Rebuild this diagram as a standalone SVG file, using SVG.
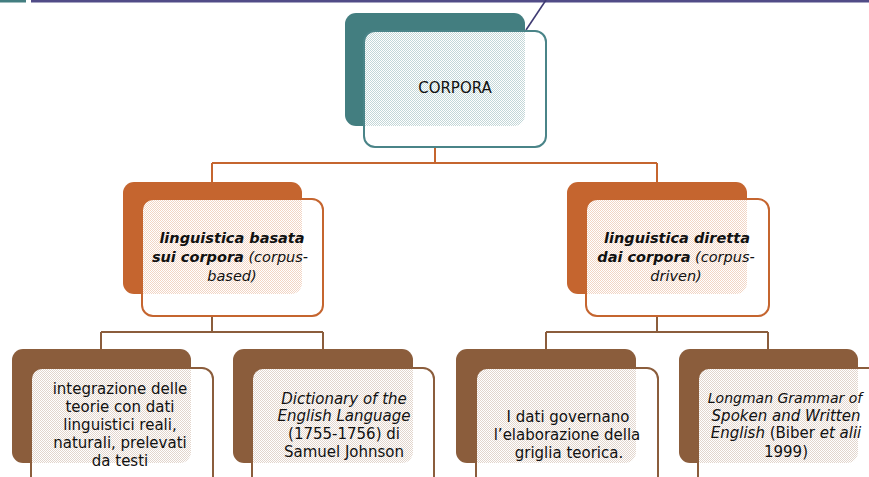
<svg xmlns="http://www.w3.org/2000/svg" width="869" height="477" viewBox="0 0 869 477">
<style>
  .t { font-family: "DejaVu Sans", "Liberation Sans", sans-serif; fill: #111; text-anchor: middle; }
  .top { font-size: 15px; }
  .l2 { font-size: 14.5px; font-style: italic; }
  .b { font-weight: bold; }
  .l3 { font-size: 15px; }
  .l3s { font-size: 14px; }
  .i { font-style: italic; }
  .c1 { fill: none; stroke: #C5652F; stroke-width: 2; }
  .c2 { fill: none; stroke: #8B5D3C; stroke-width: 2; }
  .ghost { fill: none; stroke-width: 1; stroke-dasharray: 1 2; opacity: 0.45; }
</style>
<defs>
  <pattern id="pTeal" width="2" height="2" patternUnits="userSpaceOnUse">
    <rect width="2" height="2" fill="#ffffff"/>
    <rect width="1" height="1" fill="#C3D7D8"/>
    <rect x="1" y="1" width="1" height="1" fill="#C3D7D8"/>
  </pattern>
  <pattern id="pOrange" width="2" height="2" patternUnits="userSpaceOnUse">
    <rect width="2" height="2" fill="#ffffff"/>
    <rect width="1" height="1" fill="#F2D5C4"/>
    <rect x="1" y="1" width="1" height="1" fill="#F2D5C4"/>
  </pattern>
  <pattern id="pBrown" width="2" height="2" patternUnits="userSpaceOnUse">
    <rect width="2" height="2" fill="#ffffff"/>
    <rect width="1" height="1" fill="#E2D5CC"/>
    <rect x="1" y="1" width="1" height="1" fill="#E2D5CC"/>
  </pattern>
</defs>

<rect width="869" height="477" fill="#ffffff"/>
<!-- top bars -->
<rect x="0" y="0" width="26" height="2.5" fill="#437E80"/>
<rect x="31" y="0" width="838" height="2.5" fill="#514C87"/>
<line x1="546" y1="0" x2="526" y2="30" stroke="#3F3B73" stroke-width="1.6"/>

<g id="connectors">
  <path class="c1" d="M435,147 V163 M212,163 H657 M212,163 V182 M657,163 V182"/>
  <path class="c2" d="M212,316 V332 M101,332 H323 M101,332 V349 M323,332 V349"/>
  <path class="c2" d="M657,316 V332 M546,332 H768 M546,332 V349 M768,332 V349"/>
  <path class="ghost" stroke="#C5652F" d="M435,127 V146"/>
  <path class="ghost" stroke="#8B5D3C" d="M212,295 V315"/>
  <path class="ghost" stroke="#8B5D3C" d="M657,295 V315"/>
</g>

<g id="corpora">
  <rect x="345" y="13" width="180" height="113" rx="11" fill="#437E80"/>
  <rect x="364" y="31" width="182" height="116" rx="11" fill="#ffffff"/>
  <path d="M375,32 H525 V115 A11 11 0 0 1 514,126 H365 V42 A10 10 0 0 1 375,32 Z" fill="url(#pTeal)"/>
  <rect x="364" y="31" width="182" height="116" rx="11" fill="none" stroke="#4A8488" stroke-width="2"/>
  <text class="t top" x="455" y="93">CORPORA</text>
</g>

<g id="corpus-based">
  <rect x="123" y="182" width="179" height="112" rx="11" fill="#C5652F"/>
  <rect x="142" y="199" width="181" height="117" rx="11" fill="#ffffff"/>
  <path d="M153,200 H302 V283 A11 11 0 0 1 291,294 H143 V210 A10 10 0 0 1 153,200 Z" fill="url(#pOrange)"/>
  <rect x="142" y="199" width="181" height="117" rx="11" fill="none" stroke="#C5652F" stroke-width="2"/>
  <text class="t l2" x="232" y="243"><tspan class="b">linguistica basata</tspan></text>
  <text class="t l2" x="230" y="262"><tspan class="b">sui corpora</tspan> (corpus-</text>
  <text class="t l2" x="232" y="281">based)</text>
</g>

<g id="corpus-driven">
  <rect x="567" y="182" width="180" height="112" rx="11" fill="#C5652F"/>
  <rect x="586" y="199" width="183" height="117" rx="11" fill="#ffffff"/>
  <path d="M597,200 H747 V283 A11 11 0 0 1 736,294 H587 V210 A10 10 0 0 1 597,200 Z" fill="url(#pOrange)"/>
  <rect x="586" y="199" width="183" height="117" rx="11" fill="none" stroke="#C5652F" stroke-width="2"/>
  <text class="t l2" x="677" y="243"><tspan class="b">linguistica diretta</tspan></text>
  <text class="t l2" x="676" y="262"><tspan class="b">dai corpora</tspan> (corpus-</text>
  <text class="t l2" x="676" y="281">driven)</text>
</g>

<g id="integrazione">
  <rect x="12" y="349" width="179" height="114" rx="11" fill="#8B5D3C"/>
  <rect x="31" y="368" width="182" height="120" rx="11" fill="#ffffff"/>
  <path d="M42,369 H191 V452 A11 11 0 0 1 180,463 H32 V379 A10 10 0 0 1 42,369 Z" fill="url(#pBrown)"/>
  <rect x="31" y="368" width="182" height="120" rx="11" fill="none" stroke="#8B5D3C" stroke-width="2"/>
  <text class="t l3" x="120" y="394">integrazione delle</text>
  <text class="t l3" x="120" y="412">teorie con dati</text>
  <text class="t l3" x="120" y="430">linguistici reali,</text>
  <text class="t l3" x="120" y="448">naturali, prelevati</text>
  <text class="t l3" x="120" y="466">da testi</text>
</g>

<g id="dictionary">
  <rect x="233" y="349" width="180" height="114" rx="11" fill="#8B5D3C"/>
  <rect x="252" y="368" width="182" height="120" rx="11" fill="#ffffff"/>
  <path d="M263,369 H413 V452 A11 11 0 0 1 402,463 H253 V379 A10 10 0 0 1 263,369 Z" fill="url(#pBrown)"/>
  <rect x="252" y="368" width="182" height="120" rx="11" fill="none" stroke="#8B5D3C" stroke-width="2"/>
  <text class="t l3 i" x="344" y="404">Dictionary of  the</text>
  <text class="t l3 i" x="344" y="421">English Language</text>
  <text class="t l3" x="344" y="439">(1755-1756) di</text>
  <text class="t l3" x="344" y="457">Samuel Johnson</text>
</g>

<g id="dati-governano">
  <rect x="456" y="349" width="180" height="114" rx="11" fill="#8B5D3C"/>
  <rect x="476" y="368" width="182" height="120" rx="11" fill="#ffffff"/>
  <path d="M487,369 H636 V452 A11 11 0 0 1 625,463 H477 V379 A10 10 0 0 1 487,369 Z" fill="url(#pBrown)"/>
  <rect x="476" y="368" width="182" height="120" rx="11" fill="none" stroke="#8B5D3C" stroke-width="2"/>
  <text class="t l3" x="568" y="422">I dati governano</text>
  <text class="t l3" x="567" y="440">l’elaborazione della</text>
  <text class="t l3" x="569" y="458">griglia teorica.</text>
</g>

<g id="longman">
  <rect x="679" y="349" width="179" height="114" rx="11" fill="#8B5D3C"/>
  <rect x="698" y="368" width="182" height="120" rx="11" fill="#ffffff"/>
  <path d="M709,369 H858 V452 A11 11 0 0 1 847,463 H699 V379 A10 10 0 0 1 709,369 Z" fill="url(#pBrown)"/>
  <rect x="698" y="368" width="182" height="120" rx="11" fill="none" stroke="#8B5D3C" stroke-width="2"/>
  <text class="t l3s i" x="785" y="403">Longman Grammar of</text>
  <text class="t l3 i" x="786" y="421">Spoken and Written</text>
  <text class="t l3" x="786" y="438"><tspan class="i">English</tspan> (Biber <tspan class="i">et alii</tspan></text>
  <text class="t l3" x="786" y="457">1999)</text>
</g>
</svg>
